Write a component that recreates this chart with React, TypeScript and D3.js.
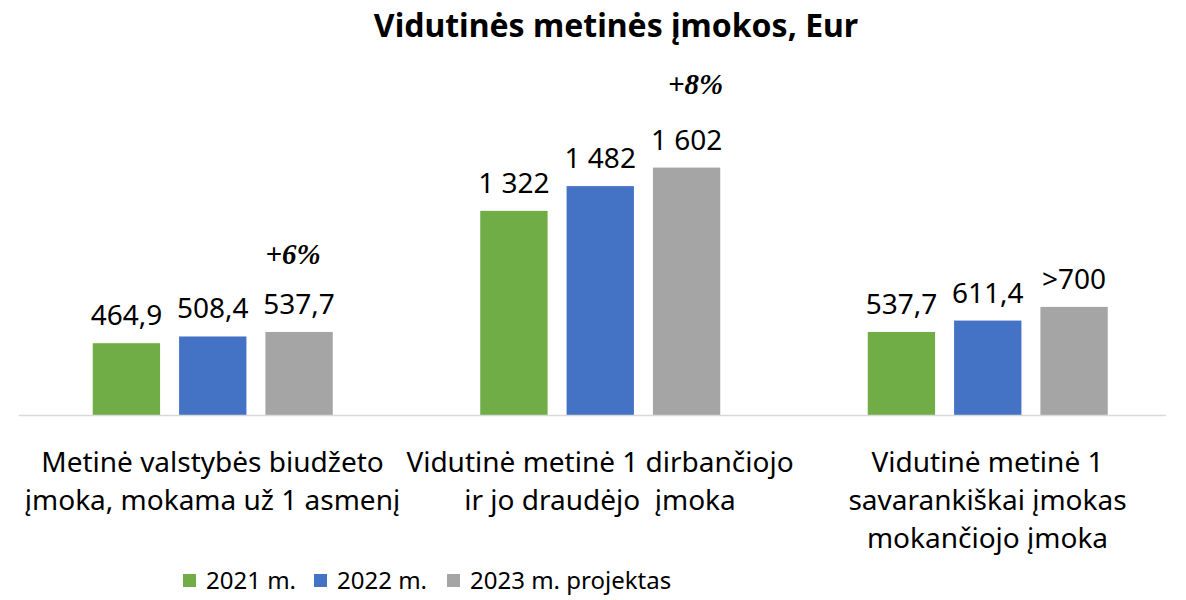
import React from 'react';
import * as d3 from 'd3';

// categories (split into lines as in the original)
const categories = [
  ['Metinė valstybės biudžeto', 'įmoka, mokama už 1 asmenį'],
  ['Vidutinė metinė 1 dirbančiojo', 'ir jo draudėjo  įmoka'],
  ['Vidutinė metinė 1', 'savarankiškai įmokas', 'mokančiojo įmoka'],
];
const seriesNames = ['2021 m.', '2022 m.', '2023 m. projektas'];
const colors = ['#70ad47', '#4472c4', '#a5a5a5'];

const values2021 = [464.9, 1322, 537.7];
const values2022 = [508.4, 1482, 611.4];
const values2023 = [537.7, 1602, 700];

const labels2021 = ['464,9', '1 322', '537,7'];
const labels2022 = ['508,4', '1 482', '611,4'];
const labels2023 = ['537,7', '1 602', '>700'];

// growth notes above the projected bars
const growth = ['+6%', '+8%', ''];

const title = 'Vidutinės metinės įmokos, Eur';

const W = 1186, H = 600;
const font = '"Noto Sans", "Open Sans", sans-serif';

export default function App() {
  const values = [values2021, values2022, values2023];
  const labels = [labels2021, labels2022, labels2023];
  const keys = categories.map((c, i) => String(i));

  const x0 = d3.scaleBand().domain(keys).range([18.75, 1181.25]);
  const x1 = d3.scaleBand().domain(seriesNames).range([74, 314]).paddingInner(0.22);
  const y = d3.scaleLinear().domain([0, 1800]).range([415, 137]);

  return (
    <svg width={W} height={H} style={{position: 'absolute', left: 0, top: 0, background: '#fff'}}>
      <rect width={W} height={H} fill="#fff" />
      <text x={616} y={37} textAnchor="middle" fontFamily={font} fontWeight={700} fontSize={32}>
        {title}
      </text>

      {seriesNames.map((s, si) => (
        <g key={s} fill={colors[si]}>
          {keys.map((k, ci) => (
            <rect key={k}
              x={x0(k)! + x1(s)!}
              y={y(values[si][ci])}
              width={x1.bandwidth()}
              height={y(0) - y(values[si][ci])} />
          ))}
        </g>
      ))}

      <line x1={18.75} x2={1166} y1={y(0) + 0.5} y2={y(0) + 0.5} stroke="#d9d9d9" strokeWidth={1.5} />

      {seriesNames.map((s, si) => (
        <g key={s} fontFamily={font} fontSize={28} textAnchor="middle" fill="#000">
          {keys.map((k, ci) => (
            <text key={k} x={x0(k)! + x1(s)! + x1.bandwidth() / 2} y={y(values[si][ci]) - 18}>
              {labels[si][ci]}
            </text>
          ))}
        </g>
      ))}

      {keys.map((k, ci) => growth[ci] ? (
        <text key={k}
          x={x0(k)! + x1(seriesNames[2])! + x1.bandwidth() / 2 + (ci === 1 ? 9 : -6)}
          y={y(values2023[ci]) - (ci === 1 ? 74 : 68)}
          textAnchor="middle" fontFamily='"Liberation Serif", serif' fontStyle="italic" fontWeight={700} fontSize={29}>
          {growth[ci]}
        </text>
      ) : null)}

      {keys.map((k, ci) => (
        <text key={k} x={x0(k)! + x0.bandwidth() / 2} textAnchor="middle" fontFamily={font} fontSize={28}
          fill="#000" style={{whiteSpace: 'pre'}}>
          {categories[ci].map((line, li) => (
            <tspan key={li} x={x0(k)! + x0.bandwidth() / 2} y={472 + li * 38}>{line}</tspan>
          ))}
        </text>
      ))}

      <g fontFamily={font} fontSize={24}>
        {seriesNames.map((s, si) => {
          const lx = [183, 314, 447][si];
          return (
            <g key={s}>
              <rect x={lx} y={574} width={13} height={13} fill={colors[si]} />
              <text x={lx + 23} y={589}>{s}</text>
            </g>
          );
        })}
      </g>
    </svg>
  );
}
